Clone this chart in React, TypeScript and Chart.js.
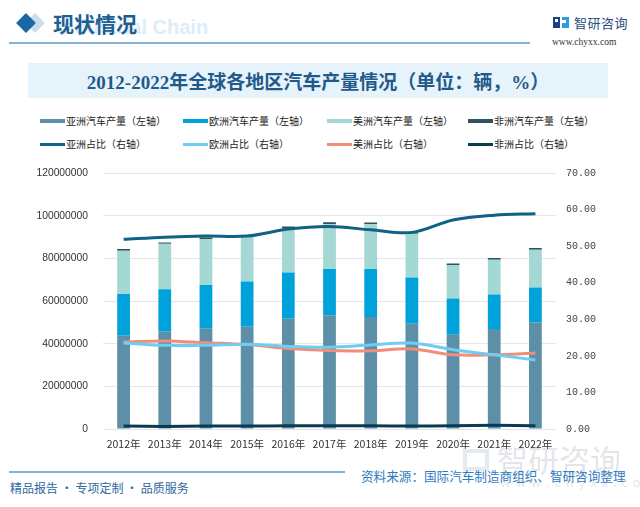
import React, { useEffect, useRef } from "react";
import { Chart, registerables } from "chart.js";
Chart.register(...registerables);

const years = ["2012年", "2013年", "2014年", "2015年", "2016年", "2017年", "2018年", "2019年", "2020年", "2021年", "2022年"];

const asiaProd = [43700000, 45800000, 47000000, 48000000, 51700000, 53300000, 52500000, 49400000, 44200000, 46900000, 50000000];
const europeProd = [19600000, 19800000, 20600000, 21200000, 21700000, 21700000, 22500000, 21700000, 17000000, 16200000, 16400000];
const americaProd = [20300000, 21300000, 21500000, 21000000, 20800000, 21100000, 21100000, 20500000, 15700000, 16300000, 17700000];
const africaProd = [800000, 600000, 700000, 600000, 800000, 900000, 800000, 600000, 700000, 800000, 800000];

const asiaShare = [51.9, 52.5, 52.8, 52.8, 54.7, 55.4, 54.5, 53.8, 57.2, 58.5, 58.9];
const europeShare = [23.5, 22.9, 22.9, 23.2, 22.6, 22.4, 23.0, 23.5, 21.7, 20.3, 18.9];
const americaShare = [23.8, 24.1, 23.6, 23.1, 22.0, 21.5, 21.4, 21.9, 20.3, 20.3, 20.8];
const africaShare = [0.8, 0.7, 0.8, 0.8, 0.9, 0.9, 0.9, 0.8, 0.9, 1.0, 0.9];

const leftTicks = [0, 20000000, 40000000, 60000000, 80000000, 100000000, 120000000];
const rightTicks = [0, 10, 20, 30, 40, 50, 60, 70];

const title = "2012-2022年全球各地区汽车产量情况（单位：辆，%）";
const source = "资料来源：国际汽车制造商组织、智研咨询整理";
const footer = "精品报告 · 专项定制 · 品质服务";

const barLegend = [
  { label: "亚洲汽车产量（左轴）", color: "#5d8fa8" },
  { label: "欧洲汽车产量（左轴）", color: "#00a2dc" },
  { label: "美洲汽车产量（左轴）", color: "#a4d8d4" },
  { label: "非洲汽车产量（左轴）", color: "#2f5262" },
];
const lineLegend = [
  { label: "亚洲占比（右轴）", color: "#0f6186" },
  { label: "欧洲占比（右轴）", color: "#6dcdf3" },
  { label: "美洲占比（右轴）", color: "#ef8f79" },
  { label: "非洲占比（右轴）", color: "#0b3b52" },
];

const legendX = [40, 183, 327, 468];
const CJK = '"Noto Sans CJK SC", "Noto Sans", sans-serif';

export default function App() {
  const ref = useRef<HTMLCanvasElement>(null);

  useEffect(() => {
    const barSeries = [asiaProd, europeProd, americaProd, africaProd];
    const lineSeries = [asiaShare, europeShare, americaShare, africaShare];
    const chart = new Chart(ref.current as HTMLCanvasElement, {
      type: "bar",
      data: {
        labels: years,
        datasets: [
          ...lineSeries.map((d, i) => ({
            type: "line" as const,
            label: lineLegend[i].label,
            data: d,
            yAxisID: "y1",
            borderColor: lineLegend[i].color,
            backgroundColor: lineLegend[i].color,
            borderWidth: 3,
            pointRadius: 0,
            tension: 0.35,
            fill: false,
            order: 0,
          })),
          ...barSeries.map((d, i) => ({
            type: "bar" as const,
            label: barLegend[i].label,
            data: d,
            yAxisID: "y",
            backgroundColor: barLegend[i].color,
            borderWidth: 0,
            barPercentage: 0.31,
            categoryPercentage: 1,
            order: 1,
          })),
        ],
      },
      options: {
        responsive: false,
        maintainAspectRatio: false,
        animation: false,
        layout: { padding: { top: 0, bottom: 6, left: 0, right: 0 } },
        plugins: { legend: { display: false }, tooltip: { enabled: false } },
        scales: {
          x: {
            stacked: true,
            grid: { display: false },
            border: { display: false },
            ticks: { color: "#333", font: { family: CJK, size: 10.5 }, padding: 1, maxRotation: 0, autoSkip: false },
            afterFit: (s: any) => { s.height = 25; },
          },
          y: {
            stacked: true,
            position: "left",
            min: 0,
            max: 120000000,
            afterBuildTicks: (s: any) => { s.ticks = leftTicks.map((v) => ({ value: v })); },
            grid: { color: "#e6e6e6", lineWidth: 1, drawTicks: false },
            border: { display: false },
            ticks: {
              color: "#333",
              font: { family: '"Liberation Sans", Arial, sans-serif', size: 10.3 },
              padding: 15,
              callback: (v: any) => String(v),
            },
            afterFit: (s: any) => { s.width = 73; },
          },
          y1: {
            position: "right",
            min: 0,
            max: 70,
            afterBuildTicks: (s: any) => { s.ticks = rightTicks.map((v) => ({ value: v })); },
            grid: { drawOnChartArea: false, drawTicks: false },
            border: { display: false },
            ticks: {
              color: "#444",
              font: { family: '"Liberation Mono", monospace', size: 10 },
              padding: 10,
              callback: (v: any) => Number(v).toFixed(2),
            },
            afterFit: (s: any) => { s.width = 74; },
          },
        },
      },
    });
    return () => chart.destroy();
  }, []);

  return (
    <div style={{ position: "fixed", left: 0, top: 0, width: 640, height: 507, background: "#fff", overflow: "hidden", fontFamily: CJK }}>
      {/* header */}
      <div style={{ position: "absolute", left: 28, top: 16, width: 14, height: 14, background: "#c9dfec", transform: "rotate(45deg)" }} />
      <div style={{ position: "absolute", left: 19, top: 16, width: 14, height: 14, background: "#1a69a4", transform: "rotate(45deg)" }} />
      <div style={{ position: "absolute", left: 57, top: 16, fontFamily: '"Liberation Sans", Arial, sans-serif', fontWeight: 700, fontSize: 20, color: "#dcedf9", whiteSpace: "nowrap", lineHeight: "22px" }}>Industrial Chain</div>
      <div style={{ position: "absolute", left: 53, top: 9, fontWeight: 700, fontSize: 21, color: "#1d5f92", whiteSpace: "nowrap", lineHeight: "28px" }}>现状情况</div>
      <div style={{ position: "absolute", left: 9, top: 42, width: 521, height: 2, background: "#86b3d4" }} />
      {/* logo */}
      <div style={{ position: "absolute", left: 553, top: 17, width: 7, height: 11, background: "#1f3e86" }} />
      <div style={{ position: "absolute", left: 555, top: 19, width: 3, height: 3, background: "#fff" }} />
      <div style={{ position: "absolute", left: 562, top: 17, width: 7, height: 11, background: "#2e9de0" }} />
      <div style={{ position: "absolute", left: 562, top: 20, width: 4, height: 3, background: "#fff" }} />
      <div style={{ position: "absolute", left: 574, top: 14, fontSize: 13, color: "#2b4c7c", whiteSpace: "nowrap", lineHeight: "18px", letterSpacing: 0.5 }}>智研咨询</div>
      <div style={{ position: "absolute", left: 552, top: 36, fontSize: 9.5, color: "#333", whiteSpace: "nowrap", lineHeight: "12px", fontFamily: '"Liberation Serif", serif' }}>www.chyxx.com</div>
      {/* title band */}
      <div style={{ position: "absolute", left: 28, top: 63, width: 580, height: 35, background: "#e7f3fb" }} />
      <div style={{ position: "absolute", left: 28, top: 63, width: 580, height: 35, display: "flex", alignItems: "center", justifyContent: "center", fontFamily: '"Liberation Serif", "Noto Sans CJK SC", serif', fontWeight: 700, fontSize: 19, color: "#1f5a8a", whiteSpace: "nowrap" }}>{title}</div>
      {/* legend */}
      {barLegend.map((it, i) => (
        <div key={"b" + i} style={{ position: "absolute", left: legendX[i], top: 114, height: 14, display: "flex", alignItems: "center", whiteSpace: "nowrap" }}>
          <div style={{ width: 25, height: 4, background: it.color, marginRight: 1 }} />
          <span style={{ fontSize: 10, color: "#222", lineHeight: "14px" }}>{it.label}</span>
        </div>
      ))}
      {lineLegend.map((it, i) => (
        <div key={"l" + i} style={{ position: "absolute", left: legendX[i], top: 137, height: 14, display: "flex", alignItems: "center", whiteSpace: "nowrap" }}>
          <div style={{ width: 25, height: 3, background: it.color, marginRight: 1 }} />
          <span style={{ fontSize: 10, color: "#222", lineHeight: "14px" }}>{it.label}</span>
        </div>
      ))}
      {/* watermark */}
      <div style={{ position: "absolute", left: 463, top: 449, width: 26, height: 22, border: "4px solid rgba(170,185,205,0.3)", boxSizing: "border-box" }} />
      <div style={{ position: "absolute", left: 497, top: 441, fontSize: 31, color: "rgba(165,175,188,0.32)", whiteSpace: "nowrap", lineHeight: "36px" }}>智研咨询</div>
      <div style={{ position: "absolute", left: 500, top: 474, fontSize: 13, color: "rgba(165,175,188,0.32)", whiteSpace: "nowrap", lineHeight: "16px", letterSpacing: 5 }}>www.chyxx.com</div>
      <canvas ref={ref} width={600} height={308} style={{ position: "absolute", left: 30, top: 152, width: 600, height: 308 }} />
      {/* source & footer */}
      <div style={{ position: "absolute", left: 361, top: 468, fontSize: 12.6, color: "#2f7bbd", whiteSpace: "nowrap", lineHeight: "16px" }}>{source}</div>
      <div style={{ position: "absolute", left: 9, top: 471, width: 336, height: 2, background: "#86b3d4" }} />
      <div style={{ position: "absolute", left: 10, top: 480, fontSize: 12, color: "#2c6aa0", whiteSpace: "nowrap", lineHeight: "16px" }}>{footer}</div>
    </div>
  );
}
